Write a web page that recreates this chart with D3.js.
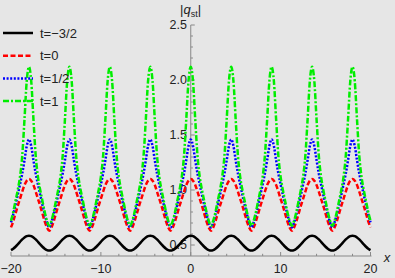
<!DOCTYPE html>
<html><head><meta charset="utf-8">
<script src="https://cdn.jsdelivr.net/npm/d3@7"></script>
<style>html,body{margin:0;padding:0;background:#e6e6e6;}svg{display:block;font-family:"Liberation Sans",Arial,sans-serif;}</style>
</head><body><svg id="c" width="395" height="278"></svg>
<script>
const xValues = d3.range(-80, 81).map(i => i / 4);
const seriesNames = ["t=\u22123/2", "t=0", "t=1/2", "t=1"];
const xTicks = [-20, -10, 0, 10, 20];
const yTicks = [0.5, 1.0, 1.5, 2.0, 2.5];

const blackT = [0.454,0.466,0.484,0.506,0.529,0.551,0.569,0.581,
0.585,0.581,0.569,0.551,0.529,0.506,0.484,0.466,0.454,0.450,0.454,0.466,0.484,0.506,0.529,0.551,0.569,0.581,
0.585,0.581,0.569,0.551,0.529,0.506,0.484,0.466,0.454,0.450,0.454,0.466,0.484,0.506,0.529,0.551,0.569,0.581,
0.585,0.581,0.569,0.551,0.529,0.506,0.484,0.466,0.454,0.450,0.454,0.466,0.484,0.506,0.529,0.551,0.569,0.581,
0.585,0.581,0.569,0.551,0.529,0.506,0.484,0.466,0.454,0.450,0.454,0.466,0.484,0.506,0.529,0.551,0.569,0.581,
0.585,0.581,0.569,0.551,0.529,0.506,0.484,0.466,0.454,0.450,0.454,0.466,0.484,0.506,0.529,0.551,0.569,0.581,
0.585,0.581,0.569,0.551,0.529,0.506,0.484,0.466,0.454,0.450,0.454,0.466,0.484,0.506,0.529,0.551,0.569,0.581,
0.585,0.581,0.569,0.551,0.529,0.506,0.484,0.466,0.454,0.450,0.454,0.466,0.484,0.506,0.529,0.551,0.569,0.581,
0.585,0.581,0.569,0.551,0.529,0.506,0.484,0.466,0.454,0.450,0.454,0.466,0.484,0.506,0.529,0.551,0.569,0.581,
0.585,0.581,0.569,0.551,0.529,0.506,0.484,0.466,0.454];

const redT0 = [0.660,0.715,0.785,0.855,0.920,0.985,1.045,1.085,
1.100,1.085,1.045,0.985,0.920,0.855,0.785,0.715,0.660,0.630,0.660,0.715,0.785,0.855,0.920,0.985,1.045,1.085,
1.100,1.085,1.045,0.985,0.920,0.855,0.785,0.715,0.660,0.630,0.660,0.715,0.785,0.855,0.920,0.985,1.045,1.085,
1.100,1.085,1.045,0.985,0.920,0.855,0.785,0.715,0.660,0.630,0.660,0.715,0.785,0.855,0.920,0.985,1.045,1.085,
1.100,1.085,1.045,0.985,0.920,0.855,0.785,0.715,0.660,0.630,0.660,0.715,0.785,0.855,0.920,0.985,1.045,1.085,
1.100,1.085,1.045,0.985,0.920,0.855,0.785,0.715,0.660,0.630,0.660,0.715,0.785,0.855,0.920,0.985,1.045,1.085,
1.100,1.085,1.045,0.985,0.920,0.855,0.785,0.715,0.660,0.630,0.660,0.715,0.785,0.855,0.920,0.985,1.045,1.085,
1.100,1.085,1.045,0.985,0.920,0.855,0.785,0.715,0.660,0.630,0.660,0.715,0.785,0.855,0.920,0.985,1.045,1.085,
1.100,1.085,1.045,0.985,0.920,0.855,0.785,0.715,0.660,0.630,0.660,0.715,0.785,0.855,0.920,0.985,1.045,1.085,
1.100,1.085,1.045,0.985,0.920,0.855,0.785,0.715,0.660];

const blueTHalf = [0.705,0.780,0.865,0.955,1.050,1.150,1.270,1.400,
1.460,1.400,1.270,1.150,1.050,0.955,0.865,0.780,0.705,0.660,0.705,0.780,0.865,0.955,1.050,1.150,1.270,1.400,
1.460,1.400,1.270,1.150,1.050,0.955,0.865,0.780,0.705,0.660,0.705,0.780,0.865,0.955,1.050,1.150,1.270,1.400,
1.460,1.400,1.270,1.150,1.050,0.955,0.865,0.780,0.705,0.660,0.705,0.780,0.865,0.955,1.050,1.150,1.270,1.400,
1.460,1.400,1.270,1.150,1.050,0.955,0.865,0.780,0.705,0.660,0.705,0.780,0.865,0.955,1.050,1.150,1.270,1.400,
1.460,1.400,1.270,1.150,1.050,0.955,0.865,0.780,0.705,0.660,0.705,0.780,0.865,0.955,1.050,1.150,1.270,1.400,
1.460,1.400,1.270,1.150,1.050,0.955,0.865,0.780,0.705,0.660,0.705,0.780,0.865,0.955,1.050,1.150,1.270,1.400,
1.460,1.400,1.270,1.150,1.050,0.955,0.865,0.780,0.705,0.660,0.705,0.780,0.865,0.955,1.050,1.150,1.270,1.400,
1.460,1.400,1.270,1.150,1.050,0.955,0.865,0.780,0.705,0.660,0.705,0.780,0.865,0.955,1.050,1.150,1.270,1.400,
1.460,1.400,1.270,1.150,1.050,0.955,0.865,0.780,0.705];

const greenT1 = [0.720,0.800,0.900,1.000,1.120,1.310,1.640,1.990,
2.120,1.990,1.640,1.310,1.120,1.000,0.900,0.800,0.720,0.675,0.720,0.800,0.900,1.000,1.120,1.310,1.640,1.990,
2.120,1.990,1.640,1.310,1.120,1.000,0.900,0.800,0.720,0.675,0.720,0.800,0.900,1.000,1.120,1.310,1.640,1.990,
2.120,1.990,1.640,1.310,1.120,1.000,0.900,0.800,0.720,0.675,0.720,0.800,0.900,1.000,1.120,1.310,1.640,1.990,
2.120,1.990,1.640,1.310,1.120,1.000,0.900,0.800,0.720,0.675,0.720,0.800,0.900,1.000,1.120,1.310,1.640,1.990,
2.120,1.990,1.640,1.310,1.120,1.000,0.900,0.800,0.720,0.675,0.720,0.800,0.900,1.000,1.120,1.310,1.640,1.990,
2.120,1.990,1.640,1.310,1.120,1.000,0.900,0.800,0.720,0.675,0.720,0.800,0.900,1.000,1.120,1.310,1.640,1.990,
2.120,1.990,1.640,1.310,1.120,1.000,0.900,0.800,0.720,0.675,0.720,0.800,0.900,1.000,1.120,1.310,1.640,1.990,
2.120,1.990,1.640,1.310,1.120,1.000,0.900,0.800,0.720,0.675,0.720,0.800,0.900,1.000,1.120,1.310,1.640,1.990,
2.120,1.990,1.640,1.310,1.120,1.000,0.900,0.800,0.720];

const seriesValues = [blackT, redT0, blueTHalf, greenT1];
const seriesColors = ["#000000", "#ff0000", "#0000ff", "#00ee00"];
const seriesDash = [null, "5,2.5", "2,1.6", "6,2,2,2"];

const svg = d3.select("#c");
svg.append("rect").attr("width",395).attr("height",278).attr("fill","#e6e6e6");

const x = d3.scaleLinear().domain([-20, 20]).range([11, 370.5]);
const y = d3.scaleLinear().domain([0.4, 2.5]).range([256, 25]);
const axisColor = "#888888";

// x axis
const xg = svg.append("g");
xg.append("line").attr("x1", x(-20)).attr("x2", x(20)+1).attr("y1", y(0.4)).attr("y2", y(0.4))
  .attr("stroke", axisColor).attr("stroke-width", 1);
d3.range(-20, 20.01, 2).forEach(v => {
  const major = Math.abs(v % 10) < 1e-9;
  xg.append("line").attr("x1", x(v)).attr("x2", x(v)).attr("y1", y(0.4)).attr("y2", y(0.4) - (major ? 4 : 2.2))
    .attr("stroke", axisColor).attr("stroke-width", 1);
});
xTicks.forEach(v => {
  xg.append("text").attr("x", x(v)).attr("y", 273).attr("text-anchor", "middle")
    .attr("font-size", 12.5).attr("fill", "#222").text(v < 0 ? "\u2212" + Math.abs(v) : String(v));
});
xg.append("text").attr("x", 387).attr("y", 262).attr("text-anchor", "middle")
  .attr("font-size", 13).attr("font-style", "italic").attr("fill", "#222").text("x");

// y axis
const yg = svg.append("g");
yg.append("line").attr("x1", x(0)).attr("x2", x(0)).attr("y1", y(0.4)).attr("y2", y(2.5))
  .attr("stroke", axisColor).attr("stroke-width", 1);
d3.range(5, 26).forEach(i => {
  const v = i / 10;
  const major = i % 5 === 0;
  yg.append("line").attr("x1", x(0)).attr("x2", x(0) + (major ? 4 : 2.2)).attr("y1", y(v)).attr("y2", y(v))
    .attr("stroke", axisColor).attr("stroke-width", 1);
});
yTicks.forEach(v => {
  yg.append("text").attr("x", 187).attr("y", y(v) + 4.3).attr("text-anchor", "end")
    .attr("font-size", 12.5).attr("fill", "#222").text(v.toFixed(1));
});
const yl = yg.append("text").attr("x", 180).attr("y", 14).attr("font-size", 13).attr("fill", "#222");
yl.append("tspan").text("|");
yl.append("tspan").attr("font-style", "italic").text("q");
yl.append("tspan").attr("font-size", 9).attr("dy", 2.5).text("st");
yl.append("tspan").attr("dy", -2.5).text("|");

// curves
const line = d3.line().x((d, i) => x(xValues[i])).y(d => y(d)).curve(d3.curveMonotoneX);
seriesValues.forEach((vals, k) => {
  const p = svg.append("path").attr("d", line(vals)).attr("fill", "none")
    .attr("stroke", seriesColors[k]).attr("stroke-width", 2.5);
  if (seriesDash[k]) p.attr("stroke-dasharray", seriesDash[k]);
});

// legend
const lg = svg.append("g");
seriesNames.forEach((name, k) => {
  const yy = 33 + k * 22.7;
  const l = lg.append("line").attr("x1", 3).attr("x2", 33).attr("y1", yy).attr("y2", yy)
    .attr("stroke", seriesColors[k]).attr("stroke-width", 2.5);
  if (seriesDash[k]) l.attr("stroke-dasharray", seriesDash[k]);
  lg.append("text").attr("x", 40).attr("y", yy + 4.5).attr("font-size", 13).attr("fill", "#222").text(name);
});
</script></body></html>
